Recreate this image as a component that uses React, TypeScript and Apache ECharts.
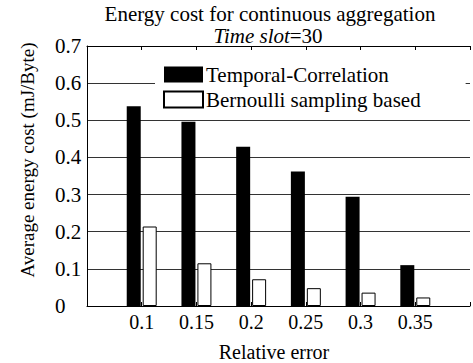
import React, { useEffect, useRef } from "react";
import * as echarts from "echarts";

const xValues = [0.1, 0.15, 0.2, 0.25, 0.3, 0.35];
const xLabels = ["0.1", "0.15", "0.2", "0.25", "0.3", "0.35"];
const temporalCorrelation = [0.538, 0.496, 0.429, 0.362, 0.294, 0.11];
const bernoulliSampling = [0.214, 0.115, 0.072, 0.048, 0.036, 0.023];
const seriesNames = ["Temporal-Correlation", "Bernoulli sampling based"];
const titleText = "Energy cost for continuous aggregation";
const yTitle = "Average energy cost (mJ/Byte)";
const xTitle = "Relative error";

const FONT = "Liberation Serif";

export default function App() {
  const ref = useRef<HTMLDivElement>(null);
  useEffect(() => {
    if (!ref.current) return;
    const chart = echarts.init(ref.current, null, { renderer: "svg" });
    const fmtX = (v: number) => {
      const s = String(+v.toFixed(2));
      return xLabels.includes(s) ? s : "";
    };
    const axisCommon = {
      type: "value",
      min: 0.05,
      max: 0.4,
      interval: 0.05,
    };
    chart.setOption({
      animation: false,
      backgroundColor: "#fff",
      textStyle: { fontFamily: FONT },
      grid: { left: 87, top: 46, width: 392, height: 260, containLabel: false },
      legend: {
        orient: "vertical",
        left: 155,
        top: 57,
        width: 308,
        backgroundColor: "#fff",
        padding: [7, 45, 6, 8],
        itemWidth: 39,
        itemHeight: 16,
        itemGap: 4,
        icon: "rect",
        textStyle: { fontFamily: FONT, fontSize: 21, color: "#000", padding: [0, 0, 0, -2] },
        data: seriesNames,
      },
      xAxis: [
        {
          ...axisCommon,
          position: "bottom",
          axisLine: { show: true, lineStyle: { color: "#000", width: 1 } },
          axisTick: { show: true, inside: true, length: 4, lineStyle: { color: "#000" } },
          axisLabel: {
            show: true,
            formatter: fmtX,
            margin: 6,
            fontFamily: FONT,
            fontSize: 20,
            color: "#000",
          },
          splitLine: { show: false },
        },
        {
          ...axisCommon,
          position: "top",
          axisLine: { show: true, lineStyle: { color: "#000", width: 1 } },
          axisTick: { show: true, inside: true, length: 4, lineStyle: { color: "#000" } },
          axisLabel: { show: false },
          splitLine: { show: false },
        },
      ],
      yAxis: {
        type: "value",
        min: 0,
        max: 0.7,
        interval: 0.1,
        axisLine: { show: true, lineStyle: { color: "#000", width: 1 } },
        axisTick: { show: false },
        axisLabel: {
          align: "left",
          margin: 32,
          fontFamily: FONT,
          fontSize: 21,
          color: "#000",
          formatter: (v: number) => String(+v.toFixed(1)),
        },
        splitLine: { show: true, lineStyle: { color: "#333", width: 1 } },
      },
      series: [
        {
          name: seriesNames[0],
          type: "bar",
          xAxisIndex: 0,
          barWidth: 14,
          barGap: "14%",
          itemStyle: { color: "#000", borderColor: "#000", borderWidth: 0 },
          data: xValues.map((x, i) => [x, temporalCorrelation[i]]),
        },
        {
          name: seriesNames[1],
          type: "bar",
          xAxisIndex: 0,
          barWidth: 14,
          barGap: "14%",
          itemStyle: { color: "#fff", borderColor: "#000", borderWidth: 1 },
          data: xValues.map((x, i) => [x, bernoulliSampling[i]]),
        },
      ],
      graphic: [
        {
          type: "text",
          x: 270,
          y: 14,
          style: {
            text: titleText,
            fontFamily: FONT,
            fontSize: 21,
            fill: "#000",
            textAlign: "center",
            textVerticalAlign: "middle",
          },
        },
        {
          type: "text",
          x: 268,
          y: 36,
          style: {
            text: "{i|Time slot}{n|=30}",
            fill: "#000",
            textAlign: "center",
            textVerticalAlign: "middle",
            rich: {
              i: { fontFamily: FONT, fontSize: 21, fontStyle: "italic", fill: "#000" },
              n: { fontFamily: FONT, fontSize: 21, fill: "#000" },
            },
          },
        },
        {
          type: "text",
          x: 27,
          y: 160,
          rotation: Math.PI / 2,
          style: {
            text: yTitle,
            fontFamily: FONT,
            fontSize: 19,
            fill: "#000",
            textAlign: "center",
            textVerticalAlign: "middle",
          },
        },
        {
          type: "text",
          x: 274,
          y: 352,
          style: {
            text: xTitle,
            fontFamily: FONT,
            fontSize: 20,
            fill: "#000",
            textAlign: "center",
            textVerticalAlign: "middle",
          },
        },
      ],
    });
    return () => chart.dispose();
  }, []);
  return (
    <div
      ref={ref}
      style={{ position: "fixed", left: 0, top: 0, width: 473, height: 363, background: "#fff" }}
    />
  );
}
